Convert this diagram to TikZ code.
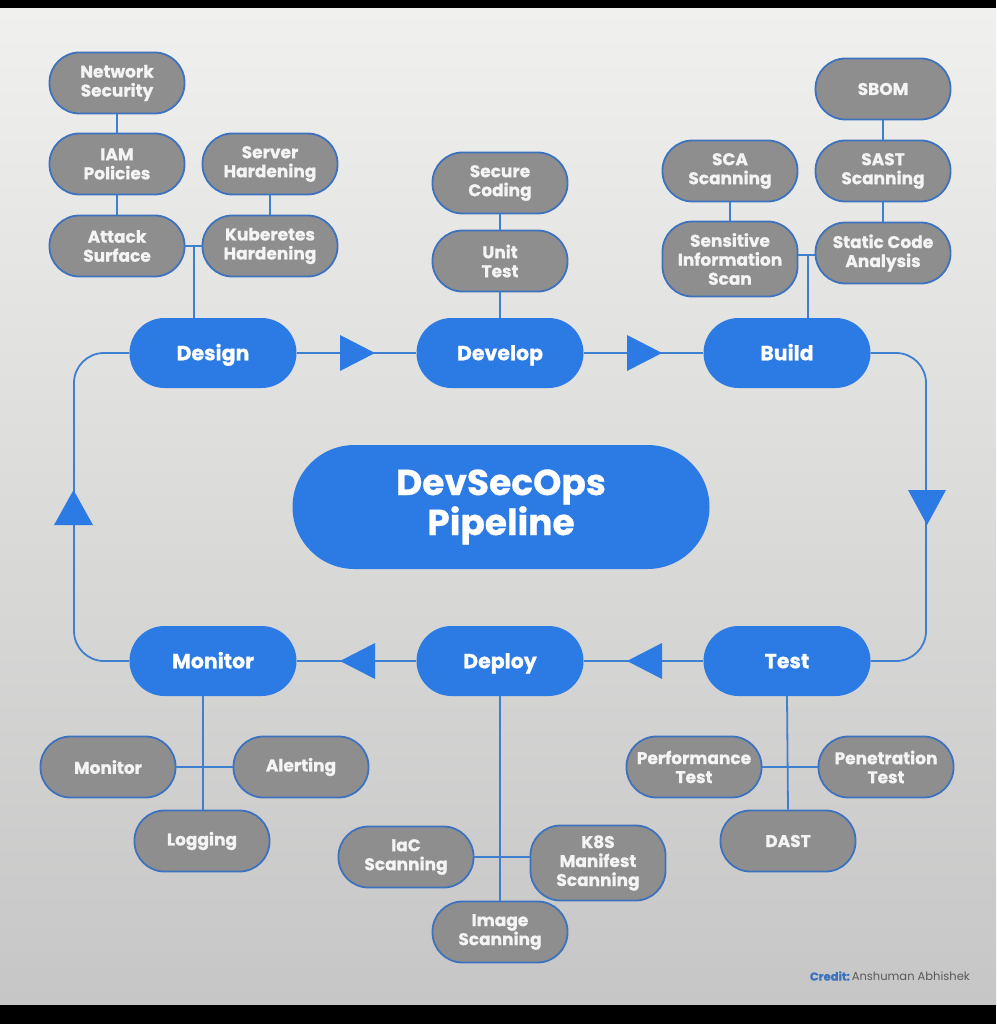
\documentclass[tikz,border=0pt]{standalone}
\usepackage{fontspec}
\setmainfont{Poppins}[BoldFeatures={FakeBold=0.7}]
\definecolor{mainblue}{HTML}{2C7BE5}
\definecolor{lineblue}{HTML}{3F7FD0}
\definecolor{nodeborder}{HTML}{3D72BE}
\definecolor{leafgray}{HTML}{8E8E8E}
\definecolor{leaftext}{HTML}{F4F4F4}
\definecolor{bgtop}{HTML}{F0F0EE}
\definecolor{bgbot}{HTML}{C6C6C6}
\definecolor{creditgray}{HTML}{5A5A5A}
\begin{document}
\begin{tikzpicture}[x=1pt,y=-1pt,
  leaf/.style={draw=nodeborder, line width=1.8pt, fill=leafgray, text=leaftext,
    font=\bfseries\fontsize{17}{19}\selectfont, align=center,
    minimum width=135pt, minimum height=61pt, rounded corners=30pt, inner sep=0pt},
  tall/.style={minimum height=75pt},
  stage/.style={fill=mainblue, text=white, font=\bfseries\fontsize{20.5}{24}\selectfont,
    minimum width=167pt, minimum height=70pt, rounded corners=35pt, inner sep=0pt,
    text height=14.5pt, text depth=0pt},
  conn/.style={draw=lineblue, line width=1.8pt},
  tri/.style={fill=mainblue}]
% background
\useasboundingbox (0,0) rectangle (996,1024);
\shade[top color=bgtop, bottom color=bgbot] (0,8) rectangle (996,1005);
\fill[black] (0,0) rectangle (996,8);
\fill[black] (0,1005) rectangle (996,1024);

% stages
\node[stage] (design) at (213,353) {Design};
\node[stage] (develop) at (500,353) {Develop};
\node[stage] (build) at (787,353) {Build};
\node[stage] (monitor) at (213,661) {Monitor};
\node[stage] (deploy) at (500,661) {Deploy};
\node[stage] (test) at (787,661) {Test};
\node[fill=mainblue, text=white, font=\bfseries\fontsize{36}{40}\selectfont, align=center,
  minimum width=417pt, minimum height=124pt, rounded corners=62pt, inner sep=0pt]
  (center) at (501,507) {DevSecOps\\Pipeline};

% design leaves
\node[leaf] (ns) at (117,83) {Network\\Security};
\node[leaf] (iam) at (117,164) {IAM\\Policies};
\node[leaf] (atk) at (117,246) {Attack\\Surface};
\node[leaf] (srv) at (270,164) {Server\\Hardening};
\node[leaf] (kub) at (270,246) {Kuberetes\\Hardening};
% develop leaves
\node[leaf] (sec) at (500,183) {Secure\\Coding};
\node[leaf] (unit) at (500,261) {Unit\\Test};
% build leaves
\node[leaf] (sca) at (730,171) {SCA\\Scanning};
\node[leaf,tall] (sens) at (730,259) {Sensitive\\Information\\Scan};
\node[leaf] (sbom) at (883,89) {SBOM};
\node[leaf] (sast) at (883,171) {SAST\\Scanning};
\node[leaf] (static) at (883,253) {Static Code\\Analysis};
% monitor leaves
\node[leaf] (monl) at (108,767) {Monitor};
\node[leaf] (alert) at (301,767) {Alerting};
\node[leaf] (logg) at (202,841) {Logging};
% deploy leaves
\node[leaf] (iac) at (406,857) {IaC\\Scanning};
\node[leaf] (img) at (500,932) {Image\\Scanning};
\node[leaf,tall] (k8s) at (598,863) {K8S\\Manifest\\Scanning};
% test leaves
\node[leaf] (perf) at (694,767) {Performance\\Test};
\node[leaf] (pen) at (886,767) {Penetration\\Test};
\node[leaf] (dast) at (788,841) {DAST};

% leaf connectors
\draw[conn] (ns) -- (iam);
\draw[conn] (iam) -- (atk);
\draw[conn] (srv) -- (kub);
\coordinate (j1) at (194,246);
\draw[conn] (atk.east) -- (kub.west);
\draw[conn] (j1) -- (j1 |- design.north);

\draw[conn] (sec) -- (unit);
\draw[conn] (unit) -- (develop);

\draw[conn] (sca) -- (sens);
\draw[conn] (sbom) -- (sast);
\draw[conn] (sast) -- (static);
\coordinate (j2) at (808,255);
\draw[conn] (sens.east |- j2) -- (static.west |- j2);
\draw[conn] (j2) -- (j2 |- build.north);

\coordinate (j3) at (203,767);
\draw[conn] (j3 |- monitor.south) -- (j3 |- logg.north);
\draw[conn] (monl.east) -- (alert.west);

\coordinate (j4) at (500,857);
\draw[conn] (deploy.south) -- (img.north);
\draw[conn] (iac.east |- j4) -- (k8s.west |- j4);

\coordinate (j5) at (788,767);
\draw[conn] (test.south) -- (dast.north);
\draw[conn] (perf.east) -- (pen.west);

% pipeline connectors
\draw[conn] (design.east) -- (develop.west);
\draw[conn] (develop.east) -- (build.west);
\draw[conn] (test.west) -- (deploy.east);
\draw[conn] (deploy.west) -- (monitor.east);
\coordinate (rc1) at (926,353);
\coordinate (rc2) at (926,661);
\coordinate (lc1) at (74,661);
\coordinate (lc2) at (74,353);
\draw[conn, rounded corners=30pt] (build.east) -- (rc1) -- (rc2) -- (test.east);
\draw[conn, rounded corners=30pt] (monitor.west) -- (lc1) -- (lc2) -- (design.west);

% arrow triangles
\fill[tri] (340,335) -- (340,371) -- (375,353) -- cycle;
\fill[tri] (627,335) -- (627,371) -- (662,353) -- cycle;
\fill[tri] (908,490) -- (946,490) -- (927,525) -- cycle;
\fill[tri] (662,643) -- (662,679) -- (627,661) -- cycle;
\fill[tri] (375,643) -- (375,679) -- (340,661) -- cycle;
\fill[tri] (54,525) -- (93,525) -- (73.5,490) -- cycle;

% credit
\node[anchor=east, inner sep=0pt, font=\fontsize{11.5}{13}\selectfont] (credit) at (970,976)
  {\textcolor{nodeborder}{\bfseries Credit:}\,\textcolor{creditgray}{Anshuman Abhishek}};
\end{tikzpicture}
\end{document}
